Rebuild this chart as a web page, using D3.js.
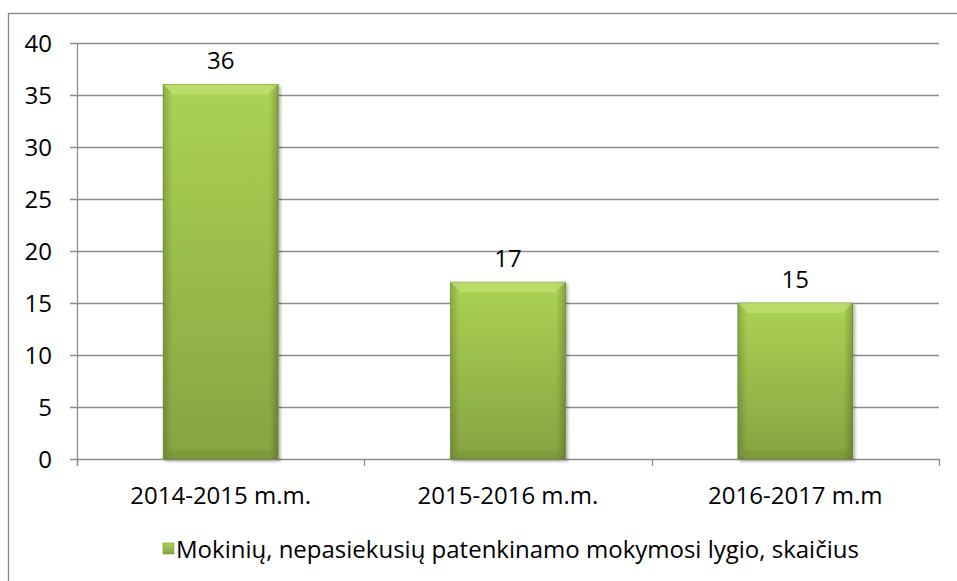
<!DOCTYPE html>
<html>
<head>
<meta charset="utf-8">
<script src="https://cdn.jsdelivr.net/npm/d3@7"></script>
<style>
    body { margin: 0; background: #ffffff; }
    text { font-family: "Open Sans", "Noto Sans", sans-serif; fill: #000000; }
</style>
</head>
<body>
<svg id="chart" width="957" height="581"></svg>
<script>
// chart data
const categories = ['2014-2015 m.m.', '2015-2016 m.m.', '2016-2017 m.m'];
const values = [36, 17, 15];
const yTicks = [0, 5, 10, 15, 20, 25, 30, 35, 40];
const seriesName = 'Mokinių, nepasiekusių patenkinamo mokymosi lygio, skaičius';

const W = 957, H = 581;
const margin = { left: 77, right: 18, top: 43, bottom: 122 };
const fontSize = '24px';

let svg = d3.select('#chart');
let defs = svg.append('defs');

// bar fill: light green at top, darker at bottom
let grad = defs.append('linearGradient')
    .attr('id', 'barFill')
    .attr('x1', 0).attr('y1', 0).attr('x2', 0).attr('y2', 1);
grad.append('stop').attr('offset', '0%').attr('stop-color', '#aad353');
grad.append('stop').attr('offset', '100%').attr('stop-color', '#86a442');

let sideGrad = defs.append('linearGradient')
    .attr('id', 'sideFill')
    .attr('x1', 0).attr('y1', 0).attr('x2', 1).attr('y2', 0);
sideGrad.append('stop').attr('offset', '0%').attr('stop-color', '#000').attr('stop-opacity', 0.18);
sideGrad.append('stop').attr('offset', '8%').attr('stop-color', '#000').attr('stop-opacity', 0);
sideGrad.append('stop').attr('offset', '92%').attr('stop-color', '#000').attr('stop-opacity', 0);
sideGrad.append('stop').attr('offset', '100%').attr('stop-color', '#000').attr('stop-opacity', 0.22);

let shadow = defs.append('filter').attr('id', 'shadow')
    .attr('x', '-10%').attr('y', '-10%').attr('width', '130%').attr('height', '130%');
shadow.append('feDropShadow')
    .attr('dx', 2).attr('dy', 2).attr('stdDeviation', 1.5)
    .attr('flood-color', '#000').attr('flood-opacity', 0.3);

// outer chart frame
svg.append('rect')
    .attr('x', 8.5).attr('y', 13.5)
    .attr('width', W).attr('height', H)
    .attr('fill', 'none')
    .attr('stroke', '#888888')
    .attr('stroke-width', 1.3);

let x = d3.scaleBand()
    .domain(categories)
    .range([margin.left, W - margin.right])
    .paddingInner(0.6)
    .paddingOuter(0.3);

let y = d3.scaleLinear()
    .domain([0, 40])
    .range([H - margin.bottom, margin.top]);

// gridlines
svg.append('g')
    .selectAll('line.grid')
    .data(yTicks)
    .enter()
    .append('line')
    .attr('class', 'grid')
    .attr('x1', margin.left - 7)
    .attr('x2', W - margin.right)
    .attr('y1', (d) => Math.round(y(d)) + 0.5)
    .attr('y2', (d) => Math.round(y(d)) + 0.5)
    .attr('stroke', '#8c8c8c')
    .attr('stroke-width', 1.3);

// y axis line
svg.append('line')
    .attr('x1', margin.left + 0.5).attr('x2', margin.left + 0.5)
    .attr('y1', y(40)).attr('y2', y(0) + 7)
    .attr('stroke', '#8c8c8c')
    .attr('stroke-width', 1.3);

// y labels
svg.append('g')
    .selectAll('text.ytick')
    .data(yTicks)
    .enter()
    .append('text')
    .attr('class', 'ytick')
    .attr('x', 52)
    .attr('y', (d) => y(d))
    .attr('dy', '0.36em')
    .attr('text-anchor', 'end')
    .style('font-size', fontSize)
    .text((d) => d);

// category tick marks at band boundaries
let boundaries = [0, 1, 2, 3].map((i) => margin.left + x.step() * i);

svg.append('g')
    .selectAll('line.xtick')
    .data(boundaries)
    .enter()
    .append('line')
    .attr('class', 'xtick')
    .attr('x1', (d) => Math.round(d) + 0.5)
    .attr('x2', (d) => Math.round(d) + 0.5)
    .attr('y1', y(0))
    .attr('y2', y(0) + 7)
    .attr('stroke', '#8c8c8c')
    .attr('stroke-width', 1.3);

// bars
let bars = svg.append('g')
    .selectAll('g.bar')
    .data(values)
    .enter()
    .append('g')
    .attr('class', 'bar');

bars.append('rect')
    .attr('x', (d, i) => x(categories[i]))
    .attr('y', (d) => y(d))
    .attr('width', x.bandwidth())
    .attr('height', (d) => y(0) - y(d))
    .attr('fill', 'url(#barFill)')
    .attr('stroke', '#7a9a3a')
    .attr('stroke-width', 0.8)
    .attr('filter', 'url(#shadow)');

// side shading
bars.append('rect')
    .attr('x', (d, i) => x(categories[i]))
    .attr('y', (d) => y(d))
    .attr('width', x.bandwidth())
    .attr('height', (d) => y(0) - y(d))
    .attr('fill', 'url(#sideFill)');

// top bevel highlight
bars.append('path')
    .attr('d', (d, i) => {
        let x0 = x(categories[i]), x1 = x0 + x.bandwidth(), t = y(d), b = 10;
        return 'M' + x0 + ',' + t + 'L' + x1 + ',' + t + 'L' + (x1 - b) + ',' + (t + b) + 'L' + (x0 + b) + ',' + (t + b) + 'Z';
    })
    .attr('fill', '#c6e57a')
    .attr('opacity', 0.6);

// bottom bevel shade
bars.append('path')
    .attr('d', (d, i) => {
        let x0 = x(categories[i]), x1 = x0 + x.bandwidth(), bt = y(0), b = 8;
        return 'M' + x0 + ',' + bt + 'L' + x1 + ',' + bt + 'L' + (x1 - b) + ',' + (bt - b) + 'L' + (x0 + b) + ',' + (bt - b) + 'Z';
    })
    .attr('fill', '#5f7a2a')
    .attr('opacity', 0.25);

// value labels
svg.append('g')
    .selectAll('text.value')
    .data(values)
    .enter()
    .append('text')
    .attr('class', 'value')
    .attr('x', (d, i) => x(categories[i]) + x.bandwidth() / 2)
    .attr('y', (d) => y(d) - 24)
    .attr('dy', '0.36em')
    .attr('text-anchor', 'middle')
    .style('font-size', fontSize)
    .text((d) => d);

// category labels
svg.append('g')
    .selectAll('text.xlabel')
    .data(categories)
    .enter()
    .append('text')
    .attr('class', 'xlabel')
    .attr('x', (d) => x(d) + x.bandwidth() / 2)
    .attr('y', y(0) + 36)
    .attr('dy', '0.36em')
    .attr('text-anchor', 'middle')
    .style('font-size', fontSize)
    .text((d) => d);

// legend
let legend = svg.append('g').attr('transform', 'translate(163,543)');
legend.append('rect')
    .attr('x', 0).attr('y', 0)
    .attr('width', 11).attr('height', 11)
    .attr('fill', 'url(#barFill)')
    .attr('stroke', '#7a9a3a')
    .attr('stroke-width', 0.6);
legend.append('text')
    .attr('x', 13)
    .attr('y', 6)
    .attr('dy', '0.36em')
    .style('font-size', fontSize)
    .text(seriesName);
</script>
</body>
</html>
